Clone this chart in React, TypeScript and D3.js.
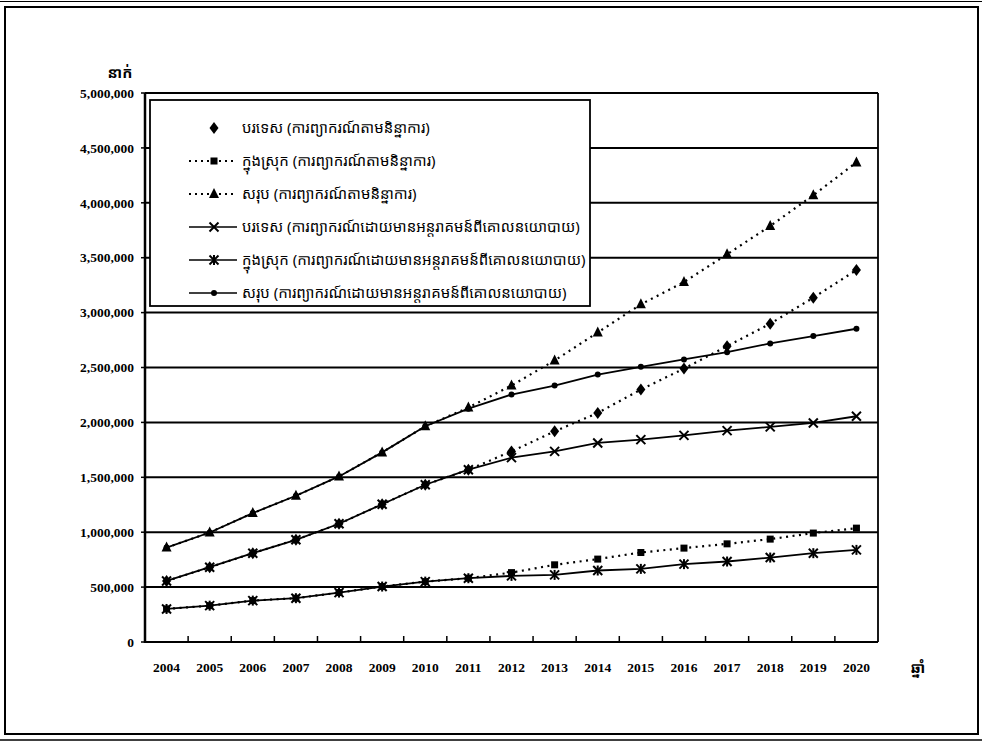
import React from 'react';
import * as d3 from 'd3';

const years = ['2004', '2005', '2006', '2007', '2008', '2009', '2010', '2011', '2012', '2013', '2014', '2015', '2016', '2017', '2018', '2019', '2020'];

// trend forecasts (dotted)
const foreignTrend = [556000, 681000, 809000, 931000, 1077000, 1255000, 1432000, 1569000, 1736000, 1919000, 2086000, 2299000, 2490000, 2694000, 2899000, 3136000, 3388000];
const domesticTrend = [301000, 331000, 377000, 399000, 450000, 505000, 550000, 581000, 632000, 703000, 755000, 815000, 855000, 894000, 937000, 992000, 1037000];
const totalTrend = [860000, 997000, 1174000, 1332000, 1508000, 1727000, 1965000, 2135000, 2336000, 2564000, 2819000, 3075000, 3278000, 3531000, 3789000, 4069000, 4368000];

// forecasts with policy intervention (solid)
const foreignPolicy = [556000, 681000, 809000, 931000, 1077000, 1255000, 1432000, 1569000, 1679000, 1736000, 1813000, 1843000, 1882000, 1925000, 1959000, 1995000, 2056000];
const domesticPolicy = [301000, 331000, 377000, 399000, 450000, 505000, 550000, 581000, 602000, 611000, 651000, 666000, 709000, 733000, 769000, 809000, 839000];
const totalPolicy = [860000, 997000, 1174000, 1332000, 1508000, 1727000, 1965000, 2125000, 2254000, 2336000, 2436000, 2506000, 2573000, 2640000, 2719000, 2786000, 2853000];

const yTicks = [0, 500000, 1000000, 1500000, 2000000, 2500000, 3000000, 3500000, 4000000, 4500000, 5000000];

const legendLabels = [
  'បរទេស (ការព្យាករណ៍តាមនិន្នាការ)',
  'ក្នុងស្រុក (ការព្យាករណ៍តាមនិន្នាការ)',
  'សរុប (ការព្យាករណ៍តាមនិន្នាការ)',
  'បរទេស (ការព្យាករណ៍ដោយមានអន្តរាគមន៍ពីគោលនយោបាយ)',
  'ក្នុងស្រុក (ការព្យាករណ៍ដោយមានអន្តរាគមន៍ពីគោលនយោបាយ)',
  'សរុប (ការព្យាករណ៍ដោយមានអន្តរាគមន៍ពីគោលនយោបាយ)',
];
const yAxisTitle = 'នាក់';
const xAxisTitle = 'ឆ្នាំ';

type MarkerType = 'diamond' | 'square' | 'triangle' | 'x' | 'asterisk' | 'dot';

const seriesList: { values: number[]; marker: MarkerType; dotted: boolean; legendLine: boolean }[] = [
  { values: foreignTrend, marker: 'diamond', dotted: true, legendLine: false },
  { values: domesticTrend, marker: 'square', dotted: true, legendLine: true },
  { values: totalTrend, marker: 'triangle', dotted: true, legendLine: true },
  { values: foreignPolicy, marker: 'x', dotted: false, legendLine: true },
  { values: domesticPolicy, marker: 'asterisk', dotted: false, legendLine: true },
  { values: totalPolicy, marker: 'dot', dotted: false, legendLine: true },
];

function Marker({ type, cx, cy }: { type: MarkerType; cx: number; cy: number }) {
  const t = `translate(${cx},${cy})`;
  switch (type) {
    case 'diamond':
      return <path transform={t} d="M0,-6 L4.5,0 L0,6 L-4.5,0 Z" fill="#000" />;
    case 'square':
      return <rect transform={t} x={-3.5} y={-3.5} width={7} height={7} fill="#000" />;
    case 'triangle':
      return <path transform={t} d="M0,-6 L5,4 L-5,4 Z" fill="#000" />;
    case 'x':
      return (
        <g transform={t} stroke="#000" strokeWidth={2}>
          <line x1={-4.5} y1={-4.5} x2={4.5} y2={4.5} />
          <line x1={-4.5} y1={4.5} x2={4.5} y2={-4.5} />
        </g>
      );
    case 'asterisk':
      return (
        <g transform={t} stroke="#000" strokeWidth={2}>
          <line x1={-4.5} y1={-4.5} x2={4.5} y2={4.5} />
          <line x1={-4.5} y1={4.5} x2={4.5} y2={-4.5} />
          <line x1={0} y1={-5} x2={0} y2={5} />
        </g>
      );
    default:
      return <circle transform={t} r={3} fill="#000" />;
  }
}

export default function App() {
  const W = 982;
  const H = 750;
  const plot = { left: 145, right: 878, top: 93, bottom: 642 };

  const x = d3.scaleBand<string>().domain(years).range([plot.left, plot.right]).paddingInner(0).paddingOuter(0);
  const cx = (i: number) => (x(years[i]) as number) + x.bandwidth() / 2;
  const y = d3.scaleLinear().domain([0, 5000000]).range([plot.bottom, plot.top]);
  const line = d3
    .line<number>()
    .x((_, i) => cx(i))
    .y((d) => y(d));

  const fmt = d3.format(',');
  const numFont = '"Liberation Serif", "Times New Roman", serif';
  const khFont = '"Noto Sans Khmer", "Khmer OS", "Noto Sans", sans-serif';

  const legend = { x: 150, y: 100, w: 440, h: 206 };
  const rowY = (i: number) => 128 + i * 33;

  const ordered = [0, 1, 2, 3, 4, 5];

  return (
    <svg width={W} height={H} style={{ position: 'absolute', left: 0, top: 0, background: '#fff' }}>
      <rect x={0} y={0} width={W} height={H} fill="#fff" />
      {/* outer frame */}
      <line x1={0} y1={1.5} x2={W} y2={1.5} stroke="#000" strokeWidth={1} />
      <rect x={5} y={7} width={973} height={727} fill="none" stroke="#000" strokeWidth={2} />
      <line x1={0} y1={740} x2={W} y2={740} stroke="#000" strokeWidth={1.5} />

      {/* gridlines */}
      {yTicks.map((t) => (
        <line key={t} x1={plot.left} x2={plot.right} y1={y(t)} y2={y(t)} stroke="#000" strokeWidth={2} />
      ))}
      {/* plot border */}
      <line x1={plot.right} x2={plot.right} y1={plot.top} y2={plot.bottom} stroke="#000" strokeWidth={1.8} />
      <line x1={plot.left} x2={plot.left} y1={plot.top} y2={plot.bottom + 1} stroke="#000" strokeWidth={2.5} />

      {/* y ticks and labels */}
      {yTicks.map((t) => (
        <g key={'yl' + t}>
          <line x1={plot.left - 4} x2={plot.left} y1={y(t)} y2={y(t)} stroke="#000" strokeWidth={1.5} />
          <text x={134} y={y(t)} dy="0.35em" textAnchor="end" fontFamily={numFont} fontSize={13.5} fontWeight="bold">
            {fmt(t)}
          </text>
        </g>
      ))}

      {/* x ticks between categories */}
      {years.slice(1).map((yr) => (
        <line key={'xt' + yr} x1={x(yr) as number} x2={x(yr) as number} y1={plot.bottom} y2={plot.bottom - 6} stroke="#000" strokeWidth={1.5} />
      ))}
      {years.map((yr, i) => (
        <text key={'xl' + yr} x={cx(i)} y={667} dy="0.35em" textAnchor="middle" fontFamily={numFont} fontSize={13.5} fontWeight="bold">
          {yr}
        </text>
      ))}

      {/* axis titles */}
      <text x={120} y={78} textAnchor="middle" fontFamily={khFont} fontSize={15} fontWeight="bold">
        {yAxisTitle}
      </text>
      <text x={918} y={668} dy="0.35em" textAnchor="middle" fontFamily={khFont} fontSize={15} fontWeight="bold">
        {xAxisTitle}
      </text>

      {/* series lines */}
      {ordered.map((k) => {
        const s = seriesList[k];
        return (
          <path
            key={'l' + k}
            d={line(s.values) || ''}
            fill="none"
            stroke="#000"
            strokeWidth={s.dotted ? 2.2 : 1.8}
            strokeDasharray={s.dotted ? '2,4.5' : undefined}
          />
        );
      })}
      {ordered.map((k) => {
        const s = seriesList[k];
        return (
          <g key={'m' + k}>
            {s.values.map((v, i) => (
              <Marker key={i} type={s.marker} cx={cx(i)} cy={y(v)} />
            ))}
          </g>
        );
      })}

      {/* legend */}
      <rect x={legend.x} y={legend.y} width={legend.w} height={legend.h} fill="#fff" stroke="#000" strokeWidth={1.8} />
      {seriesList.map((s, i) => (
        <g key={'lg' + i}>
          {s.legendLine && (
            <line
              x1={189}
              x2={237}
              y1={rowY(i)}
              y2={rowY(i)}
              stroke="#000"
              strokeWidth={s.dotted ? 2 : 1.6}
              strokeDasharray={s.dotted ? '2,4' : undefined}
            />
          )}
          <Marker type={s.marker} cx={214} cy={rowY(i)} />
          <text x={242} y={rowY(i)} dy="0.35em" fontFamily={khFont} fontSize={15}>
            {legendLabels[i]}
          </text>
        </g>
      ))}
    </svg>
  );
}
